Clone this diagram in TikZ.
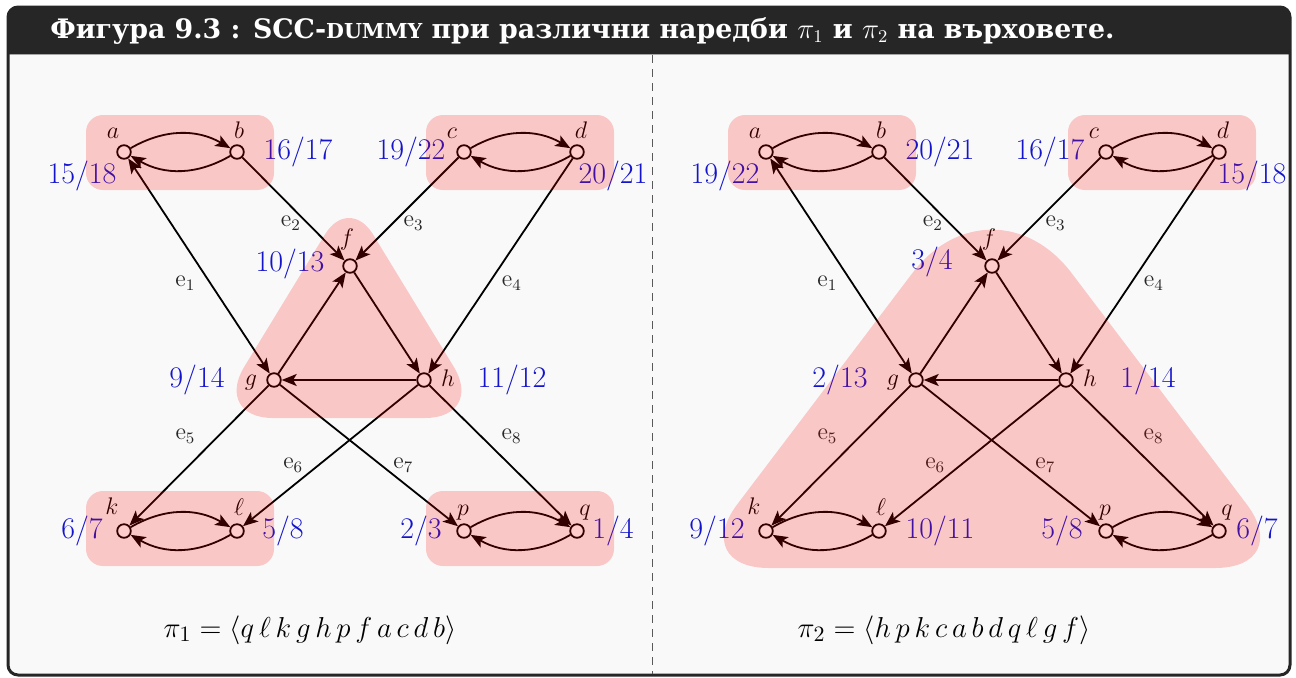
\documentclass[tikz,border=0pt]{standalone}
\usepackage{fontspec}
\newfontfamily\titlefont{DejaVu Serif}
\usetikzlibrary{positioning,arrows.meta}
\definecolor{headbg}{RGB}{38,38,38}
\definecolor{bodybg}{RGB}{249,249,249}
\definecolor{numblue}{RGB}{20,20,205}

\begin{document}
\begin{tikzpicture}[
  x=0.5pt, y=-0.5pt,
  vtx/.style={circle, draw, fill=white, line width=0.9pt, inner sep=0pt, minimum size=6.8pt},
  ltr/.style={anchor=base, inner sep=0pt, font=\fontsize{12}{14}\selectfont},
  num/.style={inner sep=0pt, text=numblue, font=\fontsize{15}{18}\selectfont},
  elbl/.style={inner sep=0pt, text=black!85, font=\fontsize{12}{14}\selectfont},
  arc/.style={-{Stealth[length=7.5pt, width=6pt, inset=1.8pt]}, line width=0.9pt},
  twoway/.style={{Stealth[length=7.5pt, width=6pt, inset=1.8pt]}-{Stealth[length=7.5pt, width=6pt, inset=1.8pt]}, line width=0.9pt},
  hl/.style={fill=red, opacity=0.2},
  perm/.style={inner sep=0pt, font=\fontsize{15}{18}\selectfont}
]
\useasboundingbox (0,0) rectangle (1296,677);

% frame and title bar
\begin{scope}
  \clip[rounded corners=5pt] (8,7) rectangle (1290,675);
  \fill[bodybg] (8,7) rectangle (1290,675);
  \fill[headbg] (8,7) rectangle (1290,54);
\end{scope}
\draw[gray!70, line width=0.5pt] (9,54) -- (1289,54);
\draw[headbg, line width=1.5pt, rounded corners=5pt] (8,7) rectangle (1290,675);
\node[anchor=base west, inner sep=0pt, text=white, font=\titlefont\bfseries\fontsize{13.4}{16}\selectfont] (title) at (50,38)
  {Фигура 9.3 : SCC-{\fontsize{10.3}{12}\selectfont DUMMY} при различни наредби $\pi_1$ и $\pi_2$ на върховете.};
\draw[black!65, line width=0.4pt, dash pattern=on 4pt off 3pt] (652,55) -- (652,674);

% left: pi_1
\node[vtx] (La) at (124,152) {};
\node[vtx] (Lb) at (237,152) {};
\node[vtx] (Lc) at (464,152) {};
\node[vtx] (Ld) at (577,152) {};
\node[vtx] (Lf) at (350,266) {};
\node[vtx] (Lg) at (274,380) {};
\node[vtx] (Lh) at (424,380) {};
\node[vtx] (Lk) at (124,531) {};
\node[vtx] (Ll) at (237,531) {};
\node[vtx] (Lp) at (464,531) {};
\node[vtx] (Lq) at (577,531) {};

\node[ltr] (La-t) at ([shift={(-11,-14)}]La) {$a$};
\node[ltr] (Lb-t) at ([shift={(2,-14)}]Lb) {$b$};
\node[ltr] (Lc-t) at ([shift={(-12,-14)}]Lc) {$c$};
\node[ltr] (Ld-t) at ([shift={(4,-14)}]Ld) {$d$};
\node[ltr] (Lf-t) at ([shift={(-3,-21)}]Lf) {$f$};
\node[ltr] (Lg-t) at ([shift={(-23,5)}]Lg) {$g$};
\node[ltr] (Lh-t) at ([shift={(24,6)}]Lh) {$h$};
\node[ltr] (Lk-t) at ([shift={(-12,-17)}]Lk) {$k$};
\node[ltr] (Ll-t) at ([shift={(2,-16)}]Ll) {$\ell$};
\node[ltr] (Lp-t) at ([shift={(-1,-16)}]Lp) {$p$};
\node[ltr] (Lq-t) at ([shift={(8,-16)}]Lq) {$q$};

\node[num] (La-n) at ([shift={(-42,24)}]La) {15/18};
\node[num] (Lb-n) at ([shift={(61,0)}]Lb) {16/17};
\node[num] (Lc-n) at ([shift={(-53,0)}]Lc) {19/22};
\node[num] (Ld-n) at ([shift={(36,24)}]Ld) {20/21};
\node[num] (Lf-n) at ([shift={(-60,-2)}]Lf) {10/13};
\node[num] (Lg-n) at ([shift={(-77,0)}]Lg) {9/14};
\node[num] (Lh-n) at ([shift={(88,0)}]Lh) {11/12};
\node[num] (Lk-n) at ([shift={(-42,0)}]Lk) {6/7};
\node[num] (Ll-n) at ([shift={(46,0)}]Ll) {5/8};
\node[num] (Lp-n) at ([shift={(-43,0)}]Lp) {2/3};
\node[num] (Lq-n) at ([shift={(36,0)}]Lq) {1/4};

\draw[arc] (La) to[bend left=30] (Lb);
\draw[arc] (Lb) to[bend left=30] (La);
\draw[arc] (Lc) to[bend left=30] (Ld);
\draw[arc] (Ld) to[bend left=30] (Lc);
\draw[arc] (Lk) to[bend left=30] (Ll);
\draw[arc] (Ll) to[bend left=30] (Lk);
\draw[arc] (Lp) to[bend left=30] (Lq);
\draw[arc] (Lq) to[bend left=30] (Lp);
\draw[twoway] (La) -- node[elbl, pos=.58, xshift=-12.5pt] {$\mathrm{e}_1$} (Lg);
\draw[arc] (Lb) -- node[elbl, pos=.64, xshift=-8.5pt] {$\mathrm{e}_2$} (Lf);
\draw[arc] (Lc) -- node[elbl, pos=.64, xshift=10.5pt] {$\mathrm{e}_3$} (Lf);
\draw[arc] (Ld) -- node[elbl, pos=.58, xshift=11.5pt] {$\mathrm{e}_4$} (Lh);
\draw[arc] (Lf) -- (Lh);
\draw[arc] (Lh) -- (Lg);
\draw[arc] (Lg) -- (Lf);
\draw[arc] (Lg) -- node[elbl, pos=.36, xshift=-16.5pt] {$\mathrm{e}_5$} (Lk);
\draw[arc] (Lh) -- node[elbl, pos=.57, xshift=-12.5pt] {$\mathrm{e}_6$} (Ll);
\draw[arc] (Lg) -- node[elbl, pos=.57, xshift=11pt] {$\mathrm{e}_7$} (Lp);
\draw[arc] (Lh) -- node[elbl, pos=.36, xshift=15.5pt] {$\mathrm{e}_8$} (Lq);

\fill[hl, rounded corners=8.5pt] (86,115) rectangle (274,190);
\fill[hl, rounded corners=8.5pt] (426,115) rectangle (614,190);
\fill[hl, rounded corners=8.5pt] (86,491) rectangle (274,566);
\fill[hl, rounded corners=8.5pt] (426,491) rectangle (614,566);
\fill[hl] (349,418) [rounded corners=30pt] -- (485,418) [rounded corners=23pt] -- (349,195) [rounded corners=30pt] -- (213,418) -- cycle;

\node[perm] (pi1) at (310,630) {$\pi_1 = \langle q\,\ell\,k\,g\,h\,p\,f\,a\,c\,d\,b\rangle$};

% right: pi_2
\node[vtx] (Ra) at (766,152) {};
\node[vtx] (Rb) at (879,152) {};
\node[vtx] (Rc) at (1106,152) {};
\node[vtx] (Rd) at (1219,152) {};
\node[vtx] (Rf) at (992,266) {};
\node[vtx] (Rg) at (916,380) {};
\node[vtx] (Rh) at (1066,380) {};
\node[vtx] (Rk) at (766,531) {};
\node[vtx] (Rl) at (879,531) {};
\node[vtx] (Rp) at (1106,531) {};
\node[vtx] (Rq) at (1219,531) {};

\node[ltr] (Ra-t) at ([shift={(-11,-14)}]Ra) {$a$};
\node[ltr] (Rb-t) at ([shift={(2,-14)}]Rb) {$b$};
\node[ltr] (Rc-t) at ([shift={(-12,-14)}]Rc) {$c$};
\node[ltr] (Rd-t) at ([shift={(4,-14)}]Rd) {$d$};
\node[ltr] (Rf-t) at ([shift={(-3,-21)}]Rf) {$f$};
\node[ltr] (Rg-t) at ([shift={(-23,5)}]Rg) {$g$};
\node[ltr] (Rh-t) at ([shift={(24,6)}]Rh) {$h$};
\node[ltr] (Rk-t) at ([shift={(-12,-17)}]Rk) {$k$};
\node[ltr] (Rl-t) at ([shift={(2,-16)}]Rl) {$\ell$};
\node[ltr] (Rp-t) at ([shift={(-1,-16)}]Rp) {$p$};
\node[ltr] (Rq-t) at ([shift={(8,-16)}]Rq) {$q$};

\node[num] (Ra-n) at ([shift={(-41,24)}]Ra) {19/22};
\node[num] (Rb-n) at ([shift={(61,0)}]Rb) {20/21};
\node[num] (Rc-n) at ([shift={(-56,0)}]Rc) {16/17};
\node[num] (Rd-n) at ([shift={(33,24)}]Rd) {15/18};
\node[num] (Rf-n) at ([shift={(-60,-4)}]Rf) {3/4};
\node[num] (Rg-n) at ([shift={(-76,0)}]Rg) {2/13};
\node[num] (Rh-n) at ([shift={(82,0)}]Rh) {1/14};
\node[num] (Rk-n) at ([shift={(-49,0)}]Rk) {9/12};
\node[num] (Rl-n) at ([shift={(61,0)}]Rl) {10/11};
\node[num] (Rp-n) at ([shift={(-44,0)}]Rp) {5/8};
\node[num] (Rq-n) at ([shift={(38,0)}]Rq) {6/7};

\draw[arc] (Ra) to[bend left=30] (Rb);
\draw[arc] (Rb) to[bend left=30] (Ra);
\draw[arc] (Rc) to[bend left=30] (Rd);
\draw[arc] (Rd) to[bend left=30] (Rc);
\draw[arc] (Rk) to[bend left=30] (Rl);
\draw[arc] (Rl) to[bend left=30] (Rk);
\draw[arc] (Rp) to[bend left=30] (Rq);
\draw[arc] (Rq) to[bend left=30] (Rp);
\draw[twoway] (Ra) -- node[elbl, pos=.58, xshift=-12.5pt] {$\mathrm{e}_1$} (Rg);
\draw[arc] (Rb) -- node[elbl, pos=.64, xshift=-8.5pt] {$\mathrm{e}_2$} (Rf);
\draw[arc] (Rc) -- node[elbl, pos=.64, xshift=10.5pt] {$\mathrm{e}_3$} (Rf);
\draw[arc] (Rd) -- node[elbl, pos=.58, xshift=11.5pt] {$\mathrm{e}_4$} (Rh);
\draw[arc] (Rf) -- (Rh);
\draw[arc] (Rh) -- (Rg);
\draw[arc] (Rg) -- (Rf);
\draw[arc] (Rg) -- node[elbl, pos=.36, xshift=-16.5pt] {$\mathrm{e}_5$} (Rk);
\draw[arc] (Rh) -- node[elbl, pos=.57, xshift=-12.5pt] {$\mathrm{e}_6$} (Rl);
\draw[arc] (Rg) -- node[elbl, pos=.57, xshift=11pt] {$\mathrm{e}_7$} (Rp);
\draw[arc] (Rh) -- node[elbl, pos=.36, xshift=15.5pt] {$\mathrm{e}_8$} (Rq);

\fill[hl, rounded corners=8.5pt] (728,115) rectangle (916,190);
\fill[hl, rounded corners=8.5pt] (1068,115) rectangle (1256,190);
\fill[hl] (992,568) [rounded corners=40pt] -- (1295,568) [rounded corners=66pt] -- (992,168) [rounded corners=40pt] -- (689,568) -- cycle;

\node[perm] (pi2) at (944,630) {$\pi_2 = \langle h\,p\,k\,c\,a\,b\,d\,q\,\ell\,g\,f\rangle$};
\end{tikzpicture}
\end{document}
